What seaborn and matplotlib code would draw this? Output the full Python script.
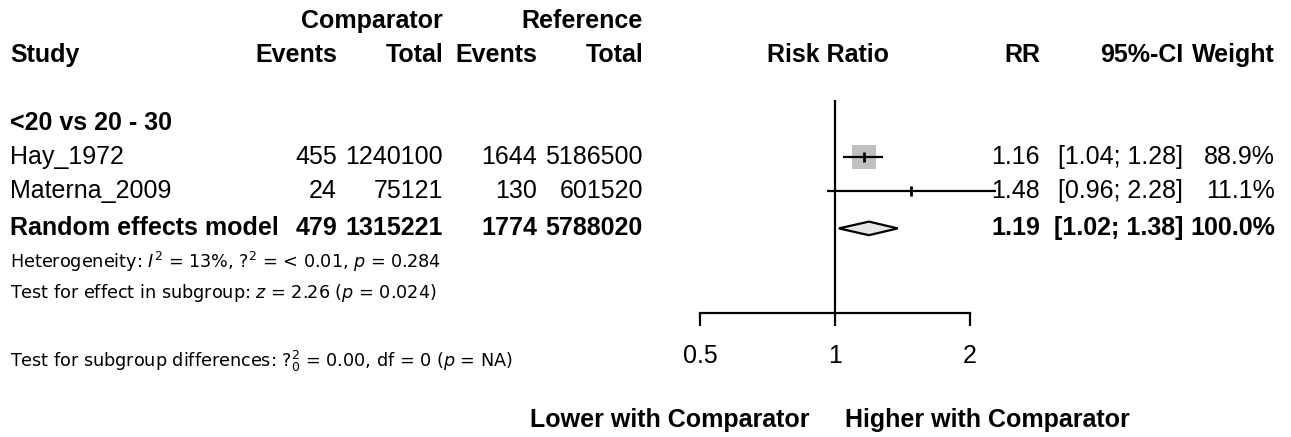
import numpy as np
import pandas as pd
import matplotlib
matplotlib.use("Agg")
import matplotlib.pyplot as plt
from matplotlib.patches import Polygon
import seaborn as sns

# ---------------- data ----------------
studies = ["Hay_1972", "Materna_2009"]
comp_events = [455, 24]
comp_total = [1240100, 75121]
ref_events = [1644, 130]
ref_total = [5186500, 601520]
rr = [1.16, 1.48]
ci_low = [1.04, 0.96]
ci_high = [1.28, 2.28]
weights = [88.9, 11.1]

pooled_label = "Random effects model"
pooled_events_comp = 479
pooled_total_comp = 1315221
pooled_events_ref = 1774
pooled_total_ref = 5788020
pooled_rr = 1.19
pooled_low = 1.02
pooled_high = 1.38
pooled_weight = 100.0

subgroup = "<20 vs 20 - 30"
x_ticks = [0.5, 1, 2]
x_ticklabels = ["0.5", "1", "2"]
null_value = 1

het_text = r"Heterogeneity: $I^2$ = 13%, $?^2$ = < 0.01, $p$ = 0.284"
effect_text = r"Test for effect in subgroup: $z$ = 2.26 ($p$ = 0.024)"
diff_text = r"Test for subgroup differences: $?^2_0$ = 0.00, df = 0 ($p$ = NA)"
left_label = "Lower with Comparator"
right_label = "Higher with Comparator"

# ---------------- style ----------------
sns.set_theme(style="white")
plt.rcParams["font.family"] = ["Liberation Sans", "DejaVu Sans"]
plt.rcParams["mathtext.fontset"] = "dejavusans"

W, H = 1291, 437
fig = plt.figure(figsize=(W / 100, H / 100), dpi=100)
fig.patch.set_facecolor("white")

# row layout (row index -> vertical position)
row_top = -21 / 34
row_bottom = (H - 21) / 34

FS = 18
FS_SMALL = 12.7

# text layer
tax = fig.add_axes([0, 0, 1, 1])
tax.set_xlim(0, W)
tax.set_ylim(row_bottom, row_top)
tax.axis("off")

def t(x, row, s, ha="left", bold=False, size=FS, family=None):
    kw = {}
    if family is not None:
        kw["family"] = family
    tax.text(x, row, s, ha=ha, va="center", fontsize=size,
             fontweight="bold" if bold else "normal", color="black", **kw)

# column positions (right edges)
c_study = 10
c_ev1, c_tot1, c_ev2, c_tot2 = 337, 443, 537, 643
c_rr, c_ci, c_w = 1040, 1183, 1275
c_plot = 828

# headers
t(c_tot1, 0, "Comparator", ha="right", bold=True)
t(c_tot2, 0, "Reference", ha="right", bold=True)
t(c_study, 1, "Study", bold=True)
t(c_ev1, 1, "Events", ha="right", bold=True)
t(c_tot1, 1, "Total", ha="right", bold=True)
t(c_ev2, 1, "Events", ha="right", bold=True)
t(c_tot2, 1, "Total", ha="right", bold=True)
t(c_plot, 1, "Risk Ratio", ha="center", bold=True)
t(c_rr, 1, "RR", ha="right", bold=True)
t(c_ci, 1, "95%-CI", ha="right", bold=True)
t(c_w, 1, "Weight", ha="right", bold=True)

t(c_study, 3, subgroup, bold=True)

study_rows = [4, 5]
for i, r in enumerate(study_rows):
    t(c_study, r, studies[i])
    t(c_ev1, r, f"{comp_events[i]}", ha="right")
    t(c_tot1, r, f"{comp_total[i]}", ha="right")
    t(c_ev2, r, f"{ref_events[i]}", ha="right")
    t(c_tot2, r, f"{ref_total[i]}", ha="right")
    t(c_rr, r, f"{rr[i]:.2f}", ha="right")
    t(c_ci, r, f"[{ci_low[i]:.2f}; {ci_high[i]:.2f}]", ha="right")
    t(c_w, r, f"{weights[i]:.1f}%", ha="right")

pr = 6.1
t(c_study, pr, pooled_label, bold=True)
t(c_ev1, pr, f"{pooled_events_comp}", ha="right", bold=True)
t(c_tot1, pr, f"{pooled_total_comp}", ha="right", bold=True)
t(c_ev2, pr, f"{pooled_events_ref}", ha="right", bold=True)
t(c_tot2, pr, f"{pooled_total_ref}", ha="right", bold=True)
t(c_rr, pr, f"{pooled_rr:.2f}", ha="right", bold=True)
t(c_ci, pr, f"[{pooled_low:.2f}; {pooled_high:.2f}]", ha="right", bold=True)
t(c_w, pr, f"{pooled_weight:.1f}%", ha="right", bold=True)

small_fam = ["DejaVu Sans"]
t(c_study, 7.1, het_text, size=FS_SMALL, family=small_fam)
t(c_study, 8.0, effect_text, size=FS_SMALL, family=small_fam)
t(c_study, 10.0, diff_text, size=FS_SMALL, family=small_fam)

t(810, 11.74, left_label, ha="right", bold=True)
t(845, 11.74, right_label, ha="left", bold=True)

# forest axes
px_left, px_right = 660, 1010
fax = fig.add_axes([px_left / W, 0, (px_right - px_left) / W, 1])
fax.patch.set_alpha(0)
fax.set_xscale("log", base=2)
half = 175 / 135
fax.set_xlim(2 ** -half, 2 ** half)
fax.set_ylim(row_bottom, row_top)

axis_row = 8.59
# reference line at null value
fax.vlines(null_value, 2.32, axis_row, color="black", lw=1.6, zorder=1)

# CI lines
fax.hlines(study_rows, ci_low, ci_high, color="black", lw=1.6, zorder=3)

df = pd.DataFrame({"rr": rr, "row": study_rows, "w": weights})
df["side2"] = df["w"] ** 2  # square side proportional to weight
# weight squares
sns.scatterplot(data=df, x="rr", y="row", size="side2", sizes=(0, 310),
                size_norm=(0, max(weights) ** 2), marker="s", color="#c0c0c0",
                edgecolor="none", legend=False, ax=fax, zorder=2)
# point estimate ticks
sns.scatterplot(data=df, x="rr", y="row", marker="|", s=60, color="black",
                linewidth=2, legend=False, ax=fax, zorder=4)

# pooled diamond
diamond = Polygon([(pooled_low, pr), (pooled_rr, pr - 0.2),
                   (pooled_high, pr), (pooled_rr, pr + 0.2)],
                  closed=True, facecolor="#e6e6e6", edgecolor="black",
                  lw=1.6, zorder=3)
fax.add_patch(diamond)

# axis
for s in ["left", "right", "top"]:
    fax.spines[s].set_visible(False)
fax.spines["bottom"].set_position(("data", axis_row))
fax.spines["bottom"].set_bounds(min(x_ticks), max(x_ticks))
fax.spines["bottom"].set_linewidth(1.6)
fax.spines["bottom"].set_color("black")
fax.set_xticks(x_ticks)
fax.set_xticklabels(x_ticklabels)
fax.xaxis.set_minor_locator(matplotlib.ticker.NullLocator())
fax.tick_params(axis="x", direction="out", length=9.5, width=1.6,
                color="black", labelsize=FS, labelcolor="black", pad=13,
                bottom=True)
fax.set_yticks([])
fax.set_xlabel("")
fax.set_ylabel("")
fax.grid(False)

fig.savefig("out.png", dpi=100, facecolor="white")
